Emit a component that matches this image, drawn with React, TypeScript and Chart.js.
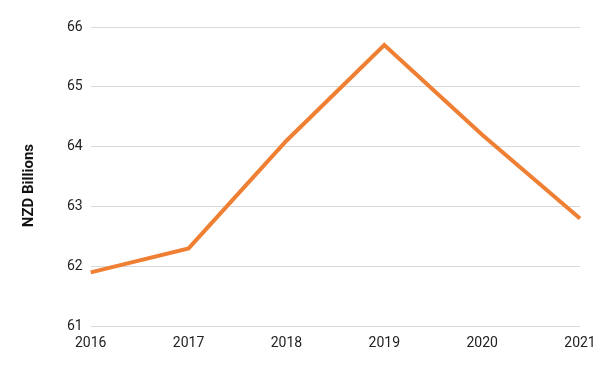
import React, { useEffect, useRef } from "react";
import { Chart, registerables } from "chart.js";

Chart.register(...registerables);

const years = ["2016", "2017", "2018", "2019", "2020", "2021"];
const values = [61.9, 62.3, 64.1, 65.7, 64.2, 62.8];
const yTitle = "NZD Billions";

const yTitlePlugin = {
  id: "yTitleManual",
  afterDraw(chart: any) {
    const { ctx, chartArea } = chart;
    ctx.save();
    ctx.translate(29, (chartArea.top + chartArea.bottom) / 2 + 9);
    ctx.rotate(-Math.PI / 2);
    ctx.font = "bold 15px Roboto";
    ctx.fillStyle = "#111";
    ctx.textAlign = "center";
    ctx.textBaseline = "middle";
    ctx.fillText(yTitle, 0, 0);
    ctx.restore();
  },
};

export default function App() {
  const ref = useRef<HTMLCanvasElement>(null);
  useEffect(() => {
    if (!ref.current) return;
    const chart = new Chart(ref.current, {
      type: "line",
      data: {
        labels: years,
        datasets: [
          {
            data: values,
            borderColor: "#EF7F33",
            borderWidth: 4,
            pointRadius: 0,
            tension: 0,
            fill: false,
          },
        ],
      },
      plugins: [yTitlePlugin],
      options: {
        animation: false,
        responsive: false,
        layout: { padding: { top: 27, right: 20, bottom: 18, left: 59 } },
        plugins: { legend: { display: false }, tooltip: { enabled: false } },
        scales: {
          x: {
            offset: false,
            grid: { display: false },
            border: { display: false },
            ticks: {
              color: "#222",
              font: { family: "Roboto", size: 14 },
              padding: 1,
              maxRotation: 0,
            },
          },
          y: {
            min: 61,
            max: 66,
            grid: { color: "#d9d9d9", drawTicks: false, lineWidth: 1 },
            border: { display: false },
            ticks: {
              stepSize: 1,
              color: "#222",
              font: { family: "Roboto", size: 14 },
              padding: 8,
            },
          },
        },
      },
    });
    return () => chart.destroy();
  }, []);
  return (
    <div style={{ position: "fixed", left: 0, top: 0, width: 600, height: 371, background: "#fff" }}>
      <canvas ref={ref} width={600} height={371} style={{ width: 600, height: 371 }} />
    </div>
  );
}
